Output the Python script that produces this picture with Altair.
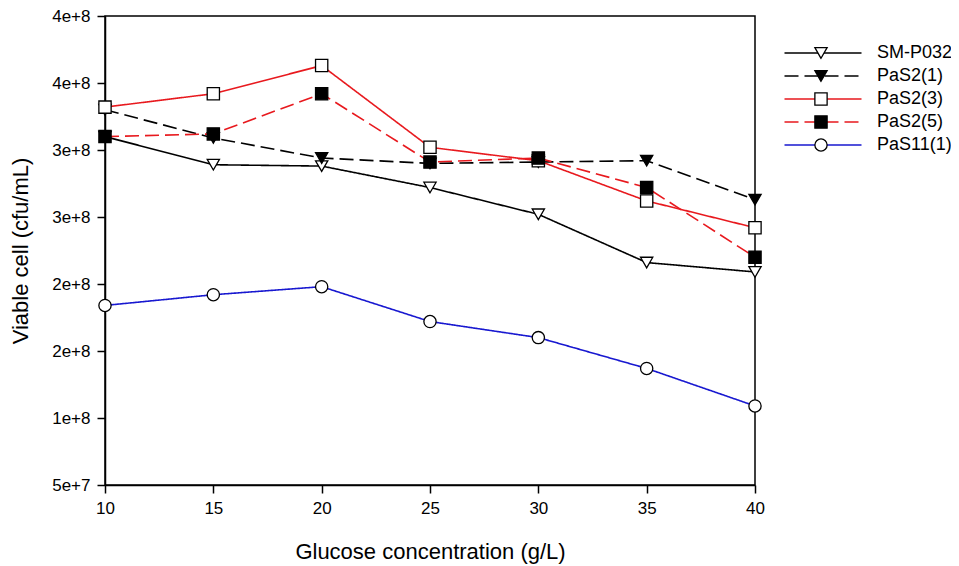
import altair as alt
import pandas as pd

# ---- data ----
glucose = [10, 15, 20, 25, 30, 35, 40]
series_names = ["SM-P032", "PaS2(1)", "PaS2(3)", "PaS2(5)", "PaS11(1)"]
sm_p032 = [3.10e8, 2.89e8, 2.88e8, 2.72e8, 2.52e8, 2.16e8, 2.09e8]
pas2_1 = [3.30e8, 3.09e8, 2.94e8, 2.90e8, 2.91e8, 2.92e8, 2.63e8]
pas2_3 = [3.32e8, 3.42e8, 3.63e8, 3.02e8, 2.92e8, 2.62e8, 2.42e8]
pas2_5 = [3.10e8, 3.12e8, 3.42e8, 2.91e8, 2.94e8, 2.72e8, 2.20e8]
pas11_1 = [1.84e8, 1.92e8, 1.98e8, 1.72e8, 1.60e8, 1.37e8, 1.09e8]

x_ticks = [10, 15, 20, 25, 30, 35, 40]
y_ticks = [5e7, 1e8, 1.5e8, 2e8, 2.5e8, 3e8, 3.5e8, 4e8]
y_tick_labels = ["5e+7", "1e+8", "2e+8", "2e+8", "3e+8", "3e+8", "4e+8", "4e+8"]

# ---- styles ----
line_colors = ["#000000", "#000000", "#e8191e", "#e8191e", "#1818d0"]
line_dashes = [[1, 0], [14, 6], [1, 0], [14, 6], [1, 0]]
marker_shapes = ["triangle-down", "triangle-down", "square", "square", "circle"]
marker_fills = ["#ffffff", "#000000", "#ffffff", "#000000", "#ffffff"]
marker_strokes = ["#000000"] * 5

values = [sm_p032, pas2_1, pas2_3, pas2_5, pas11_1]
rows = []
for i, (name, vals) in enumerate(zip(series_names, values)):
    for g, v in zip(glucose, vals):
        rows.append({"series": name, "series_m": name, "order": i, "glucose": g, "cells": v})
df = pd.DataFrame(rows)

FONT = "Liberation Sans"
label_expr = "[" + ",".join("'%s'" % s for s in y_tick_labels) + "][round((datum.value - 5e7) / 5e7)]"
legend_sort = alt.EncodingSortField(field="order", op="min")

x_enc = alt.X(
    "glucose:Q",
    scale=alt.Scale(domain=[10, 40], nice=False, zero=False),
    axis=alt.Axis(
        values=x_ticks, title="Glucose concentration (g/L)", format="d",
        labelFontSize=17, titleFontSize=22, labelPadding=7, labelFlush=False,
        titleY=66, titleBaseline="middle",
    ),
)
y_enc = alt.Y(
    "cells:Q",
    scale=alt.Scale(domain=[5e7, 4e8], nice=False, zero=False),
    axis=alt.Axis(
        values=y_ticks, labelExpr=label_expr, title="Viable cell (cfu/mL)",
        labelFontSize=17, titleFontSize=22, labelPadding=7, labelFlush=False,
        titleX=-85, titleBaseline="middle",
    ),
)

line_legend = alt.Legend(
    title=None, orient="none", legendX=709, legendY=28, padding=0,
    symbolType="M-38.5,0L38.5,0", symbolSize=4, symbolStrokeWidth=1.5,
    labelFontSize=18, labelFont=FONT, labelOffset=45, rowPadding=5,
)
marker_legend = alt.Legend(
    title=None, orient="none", legendX=707, legendY=28, padding=0,
    symbolSize=150, symbolStrokeWidth=1.3,
    labelFontSize=18, labelFont=FONT, labelExpr="''", rowPadding=5,
)

base = alt.Chart(df)

lines = base.mark_line(strokeWidth=1.6).encode(
    x=x_enc,
    y=y_enc,
    color=alt.Color("series:N", sort=legend_sort,
                    scale=alt.Scale(range=line_colors), legend=line_legend),
    strokeDash=alt.StrokeDash("series:N", sort=legend_sort,
                              scale=alt.Scale(range=line_dashes), legend=line_legend),
)

points = base.mark_point(filled=True, strokeWidth=1.3, size=150, opacity=1).encode(
    x=x_enc,
    y=y_enc,
    shape=alt.Shape("series_m:N", sort=legend_sort,
                    scale=alt.Scale(range=marker_shapes), legend=marker_legend),
    fill=alt.Fill("series_m:N", sort=legend_sort,
                  scale=alt.Scale(range=marker_fills), legend=marker_legend),
    stroke=alt.Stroke("series_m:N", sort=legend_sort,
                      scale=alt.Scale(range=marker_strokes), legend=marker_legend),
)

chart = alt.layer(lines, points).properties(
    width=650, height=469,
    autosize=alt.AutoSizeParams(type="none"),
    padding={"left": 97, "top": 8, "right": 196, "bottom": 80},
).configure_view(
    stroke="black", strokeWidth=1.5,
).configure_axis(
    grid=False, domainColor="black", domainWidth=1.5, tickColor="black",
    tickSize=8, tickWidth=1.5, labelColor="black", titleColor="black",
    labelFont=FONT, titleFont=FONT, titleFontWeight="normal",
).configure_legend(
    labelColor="black",
)

chart.save("out.html", embed_options={"renderer": "svg", "actions": False})
